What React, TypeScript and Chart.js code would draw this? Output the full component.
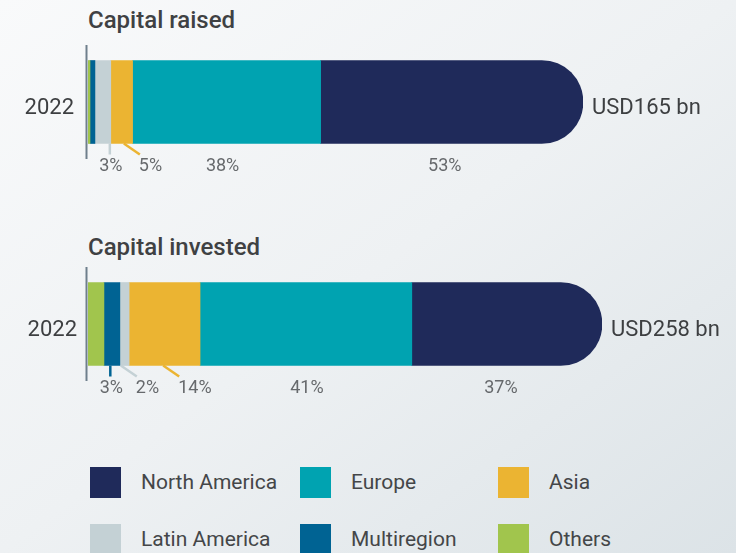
import React, { useEffect, useRef } from "react";
import { Chart, registerables } from "chart.js";

Chart.register(...registerables);

// ---- data ----
const regions = ["Others", "Multiregion", "Latin America", "Asia", "Europe", "North America"];
const regionColors = ["#a1c54d", "#006393", "#c4d1d5", "#ebb432", "#00a3b1", "#1f2a5a"];
const yearLabels = ["2022"];
const raisedValues = [0.4, 1.0, 3.2, 4.4, 38.0, 53.0];
const investedValues = [3.1, 3.1, 1.8, 13.8, 41.2, 37.0];
const raisedPctLabels = ["", "", "3%", "5%", "38%", "53%"];
const investedPctLabels = ["", "3%", "2%", "14%", "41%", "37%"];
const raisedTotal = "USD165 bn";
const investedTotal = "USD258 bn";
const raisedTitle = "Capital raised";
const investedTitle = "Capital invested";
const legendOrder = ["North America", "Europe", "Asia", "Latin America", "Multiregion", "Others"];

// label leader styles (presentation only)
type Leader = { kind: "tick" | "diag" | "none"; frac?: number; dx?: number } | null;
const raisedLeaders: Leader[] = [
  null,
  null,
  { kind: "tick", frac: 0.94 },
  { kind: "diag", frac: 0.6 },
  { kind: "none", dx: -4 },
  { kind: "none", dx: -7 },
];
const investedLeaders: Leader[] = [
  null,
  { kind: "tick", frac: 0.4 },
  { kind: "diag", frac: 0.1 },
  { kind: "diag", frac: 0.48 },
  { kind: "none", dx: 1 },
  { kind: "none", dx: -6 },
];

const FONT = "Roboto, 'Noto Sans', sans-serif";

function makeOverlay(pct: string[], leaders: Leader[], total: string, tickPad: number) {
  return {
    id: "overlay",
    afterDatasetsDraw(chart: any) {
      const ctx: CanvasRenderingContext2D = chart.ctx;
      const area = chart.chartArea;
      ctx.save();
      // axis line
      ctx.strokeStyle = "#6e7f8c";
      ctx.lineWidth = 2;
      ctx.beginPath();
      ctx.moveTo(area.left - 1.5, area.top);
      ctx.lineTo(area.left - 1.5, area.bottom);
      ctx.stroke();

      // category label(s)
      const yScale = chart.scales.y;
      ctx.font = `22px ${FONT}`;
      ctx.fillStyle = "#3d3f41";
      ctx.textAlign = "right";
      ctx.textBaseline = "alphabetic";
      (chart.data.labels as string[]).forEach((lab, idx) => {
        const cy = yScale.getPixelForValue(idx);
        ctx.fillText(lab, area.left - tickPad, cy + 12);
      });

      const n = chart.data.datasets.length;
      let lastRight = 0;
      let lastY = 0;
      for (let i = 0; i < n; i++) {
        const el = chart.getDatasetMeta(i).data[0];
        if (!el) continue;
        const p = el.getProps(["x", "base", "y", "height"], true);
        const left = Math.min(p.x, p.base);
        const right = Math.max(p.x, p.base);
        const w = right - left;
        const bottom = p.y + p.height / 2;
        if (right > lastRight) {
          lastRight = right;
          lastY = p.y;
        }
        const text = pct[i];
        const L = leaders[i];
        if (!text || !L) continue;
        const color = chart.data.datasets[i].backgroundColor as string;
        ctx.font = `18px ${FONT}`;
        ctx.fillStyle = "#66696c";
        ctx.textBaseline = "alphabetic";
        if (L.kind === "tick") {
          const lx = left + (L.frac || 0) * w;
          ctx.strokeStyle = color;
          ctx.lineWidth = 2.5;
          ctx.beginPath();
          ctx.moveTo(lx, bottom);
          ctx.lineTo(lx, bottom + 11);
          ctx.stroke();
          ctx.textAlign = "center";
          ctx.fillText(text, lx + 1, bottom + 27);
        } else if (L.kind === "diag") {
          const lx = left + (L.frac || 0) * w;
          ctx.strokeStyle = color;
          ctx.lineWidth = 2.5;
          ctx.beginPath();
          ctx.moveTo(lx, bottom);
          ctx.lineTo(lx + 16, bottom + 11);
          ctx.stroke();
          ctx.textAlign = "left";
          ctx.fillText(text, lx + 15, bottom + 27);
        } else {
          ctx.textAlign = "center";
          ctx.fillText(text, (left + right) / 2 + (L.dx || 0), bottom + 27);
        }
      }
      ctx.font = `22px ${FONT}`;
      ctx.fillStyle = "#3d3f41";
      ctx.textAlign = "left";
      ctx.textBaseline = "alphabetic";
      ctx.fillText(total, lastRight + 9, lastY + 12);
      ctx.restore();
    },
  };
}

type BarProps = {
  top: number;
  values: number[];
  pct: string[];
  leaders: Leader[];
  total: string;
  rightPad: number;
  tickPad: number;
};

function StackBar({ top, values, pct, leaders, total, rightPad, tickPad }: BarProps) {
  const ref = useRef<HTMLCanvasElement | null>(null);
  useEffect(() => {
    if (!ref.current) return;
    const sum = values.reduce((a, b) => a + b, 0);
    const last = regions.length - 1;
    const chart = new Chart(ref.current, {
      type: "bar",
      data: {
        labels: yearLabels,
        datasets: regions.map((r, i) => ({
          label: r,
          data: [values[i]],
          backgroundColor: regionColors[i],
          borderWidth: 0,
          barThickness: 83,
          borderSkipped: "start",
          borderRadius:
            i === last
              ? { topLeft: 0, bottomLeft: 0, topRight: 42, bottomRight: 42 }
              : 0,
        })),
      },
      options: {
        indexAxis: "y",
        animation: false,
        responsive: false,
        maintainAspectRatio: false,
        events: [],
        layout: { padding: { top: 5, bottom: 21, left: 0, right: rightPad } },
        scales: {
          x: { stacked: true, display: false, min: 0, max: sum },
          y: {
            stacked: true,
            grid: { display: false, drawTicks: false },
            border: { display: false },
            ticks: { display: false },
            afterFit: (s: any) => {
              s.width = 88;
            },
          },
        },
        plugins: {
          legend: { display: false },
          tooltip: { enabled: false },
        },
      } as any,
      plugins: [makeOverlay(pct, leaders, total, tickPad)],
    });
    return () => chart.destroy();
  }, []);
  return (
    <canvas
      ref={ref}
      width={736}
      height={140}
      style={{ position: "absolute", left: 0, top, width: 736, height: 140 }}
    />
  );
}

export default function App() {
  const titleStyle = (top: number): React.CSSProperties => ({
    position: "absolute",
    left: 88,
    top,
    fontFamily: FONT,
    fontSize: 24,
    lineHeight: "24px",
    fontWeight: 500,
    color: "#3f4143",
    whiteSpace: "nowrap",
  });
  const legendCols = [90, 300, 498];
  const legendRows = [467, 524];
  return (
    <div
      style={{
        position: "fixed",
        left: 0,
        top: 0,
        width: 736,
        height: 553,
        overflow: "hidden",
        background: "linear-gradient(to bottom right, #f9fafb 0%, #eef1f3 50%, #dce3e7 100%)",
        fontFamily: FONT,
      }}
    >
      <div style={titleStyle(8)}>{raisedTitle}</div>
      <StackBar
        top={40}
        values={raisedValues}
        pct={raisedPctLabels}
        leaders={raisedLeaders}
        total={raisedTotal}
        rightPad={153}
        tickPad={14}
      />
      <div style={titleStyle(235)}>{investedTitle}</div>
      <StackBar
        top={262}
        values={investedValues}
        pct={investedPctLabels}
        leaders={investedLeaders}
        total={investedTotal}
        rightPad={134}
        tickPad={11}
      />
      {legendOrder.map((name, k) => {
        const col = legendCols[k % 3];
        const row = legendRows[Math.floor(k / 3)];
        const color = regionColors[regions.indexOf(name)];
        return (
          <React.Fragment key={name}>
            <div
              style={{
                position: "absolute",
                left: col,
                top: row,
                width: 31,
                height: 31,
                background: color,
              }}
            />
            <div
              style={{
                position: "absolute",
                left: col + 51,
                top: row,
                height: 31,
                lineHeight: "31px",
                fontSize: 21,
                color: "#444648",
                whiteSpace: "nowrap",
              }}
            >
              {name}
            </div>
          </React.Fragment>
        );
      })}
    </div>
  );
}
